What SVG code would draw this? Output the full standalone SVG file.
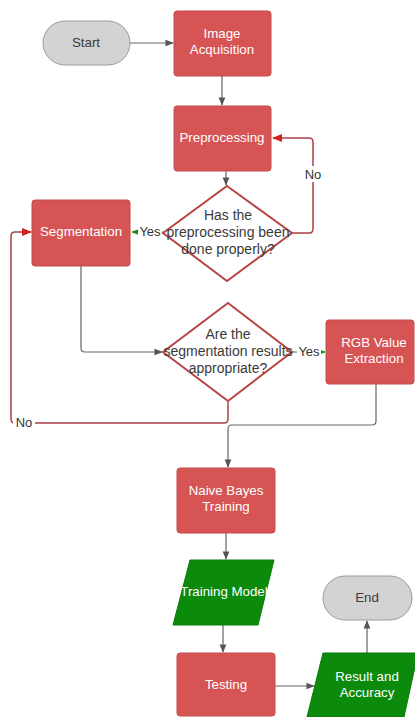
<svg xmlns="http://www.w3.org/2000/svg" width="415" height="717" viewBox="0 0 415 717">
<style>
text{font-family:"Liberation Sans",Arial,sans-serif;font-size:13.3px;text-anchor:middle}
.red{fill:#d65454;stroke:#c44a4a;stroke-width:1}
.grn{fill:#0c8a0c;stroke:#0a7a0a;stroke-width:1}
.term{fill:#d3d3d3;stroke:#9a9a9a;stroke-width:1}
.dia{fill:#fff;stroke:#b84446;stroke-width:2}
.w{fill:#fff}
.d{fill:#3a3a3a}
.dt{fill:#3a3a3a;font-size:14px}
.c{fill:none;stroke:#666;stroke-width:1.2}
.cr{fill:none;stroke:#a84046;stroke-width:1.5}
.cg{fill:none;stroke:#2a8a2a;stroke-width:1.2}
.lbl{fill:#333;font-size:13px}
</style>
<defs>
<marker id="ag" viewBox="0 0 10 10" refX="9" refY="5" markerWidth="7" markerHeight="7" orient="auto"><path d="M0,1L10,5L0,9z" fill="#555"/></marker>
<marker id="ar" viewBox="0 0 10 10" refX="9" refY="5" markerWidth="7" markerHeight="7" orient="auto"><path d="M0,1L10,5L0,9z" fill="#d42020"/></marker>
<marker id="agr" viewBox="0 0 10 10" refX="9" refY="5" markerWidth="7" markerHeight="7" orient="auto"><path d="M0,1L10,5L0,9z" fill="#1a8a1a"/></marker>
</defs>
<g id="connectors">
<path class="c" d="M130,43H173" marker-end="url(#ag)"/>
<path class="c" d="M222,76V105" marker-end="url(#ag)"/>
<path class="c" d="M226,171V185" marker-end="url(#ag)"/>
<path class="cr" d="M292,233H309Q313,233 313,229V142Q313,138 309,138H273" marker-end="url(#ar)"/>
<path class="cg" d="M163,232H132" marker-end="url(#agr)"/>
<path class="c" d="M81,266V348Q81,352 85,352H162" marker-end="url(#ag)"/>
<path class="cg" d="M292,352H325" marker-end="url(#agr)"/>
<path class="cr" d="M228,402V419Q228,423 224,423H15Q11,423 11,419V236Q11,232 15,232H31" marker-end="url(#ar)"/>
<path class="c" d="M376,384V421Q376,425 372,425H232Q228,425 228,429V467" marker-end="url(#ag)"/>
<path class="c" d="M226,533V559" marker-end="url(#ag)"/>
<path class="c" d="M223,625V652" marker-end="url(#ag)"/>
<path class="c" d="M275,686H314" marker-end="url(#ag)"/>
<path class="c" d="M367,653V621" marker-end="url(#ag)"/>
<rect x="300" y="166" width="26" height="16" fill="#fff"/>
<text class="lbl" x="313" y="179">No</text>
<rect x="138" y="224" width="24" height="15" fill="#fff"/>
<text class="lbl" x="150" y="236">Yes</text>
<rect x="297" y="344" width="24" height="15" fill="#fff"/>
<text class="lbl" x="309" y="356">Yes</text>
<rect x="13" y="415" width="22" height="15" fill="#fff"/>
<text class="lbl" x="24" y="427">No</text>
</g>
<g id="start"><rect class="term" x="43" y="21" width="87" height="44" rx="22"/><text class="d" x="86" y="47">Start</text></g>
<g id="acq"><rect class="red" x="174" y="11" width="97" height="65" rx="3"/><text class="w" x="222" y="38">Image</text><text class="w" x="222" y="54">Acquisition</text></g>
<g id="pre"><rect class="red" x="174" y="106" width="97" height="65" rx="3"/><text class="w" x="222" y="142">Preprocessing</text></g>
<g id="dec1"><path class="dia" d="M227,186L292,233L227,281L163,233Z"/><text class="dt" x="228" y="220">Has the</text><text class="dt" x="228" y="237">preprocessing been</text><text class="dt" x="228" y="254">done properly?</text></g>
<g id="seg"><rect class="red" x="32" y="200" width="98" height="66" rx="3"/><text class="w" x="81" y="236">Segmentation</text></g>
<g id="dec2"><path class="dia" d="M228,303L292,352L228,401L163,352Z"/><text class="dt" x="228" y="339">Are the</text><text class="dt" x="228" y="356">segmentation results</text><text class="dt" x="228" y="373">appropriate?</text></g>
<g id="rgb"><rect class="red" x="326" y="320" width="88" height="64" rx="3"/><text class="w" x="374" y="347">RGB Value</text><text class="w" x="374" y="363">Extraction</text></g>
<g id="nb"><rect class="red" x="177" y="468" width="98" height="65" rx="3"/><text class="w" x="226" y="495">Naive Bayes</text><text class="w" x="226" y="511">Training</text></g>
<g id="tm"><path class="grn" d="M190,560H274L258,625H173Z"/><text class="w" x="224" y="596">Training Model</text></g>
<g id="test"><rect class="red" x="177" y="653" width="98" height="63" rx="3"/><text class="w" x="226" y="689">Testing</text></g>
<g id="res"><path class="grn" d="M323,653H418L404,717H307Z"/><text class="w" x="367" y="681">Result and</text><text class="w" x="367" y="697">Accuracy</text></g>
<g id="end"><rect class="term" x="323" y="576" width="89" height="44" rx="22"/><text class="d" x="367" y="602">End</text></g>
</svg>
